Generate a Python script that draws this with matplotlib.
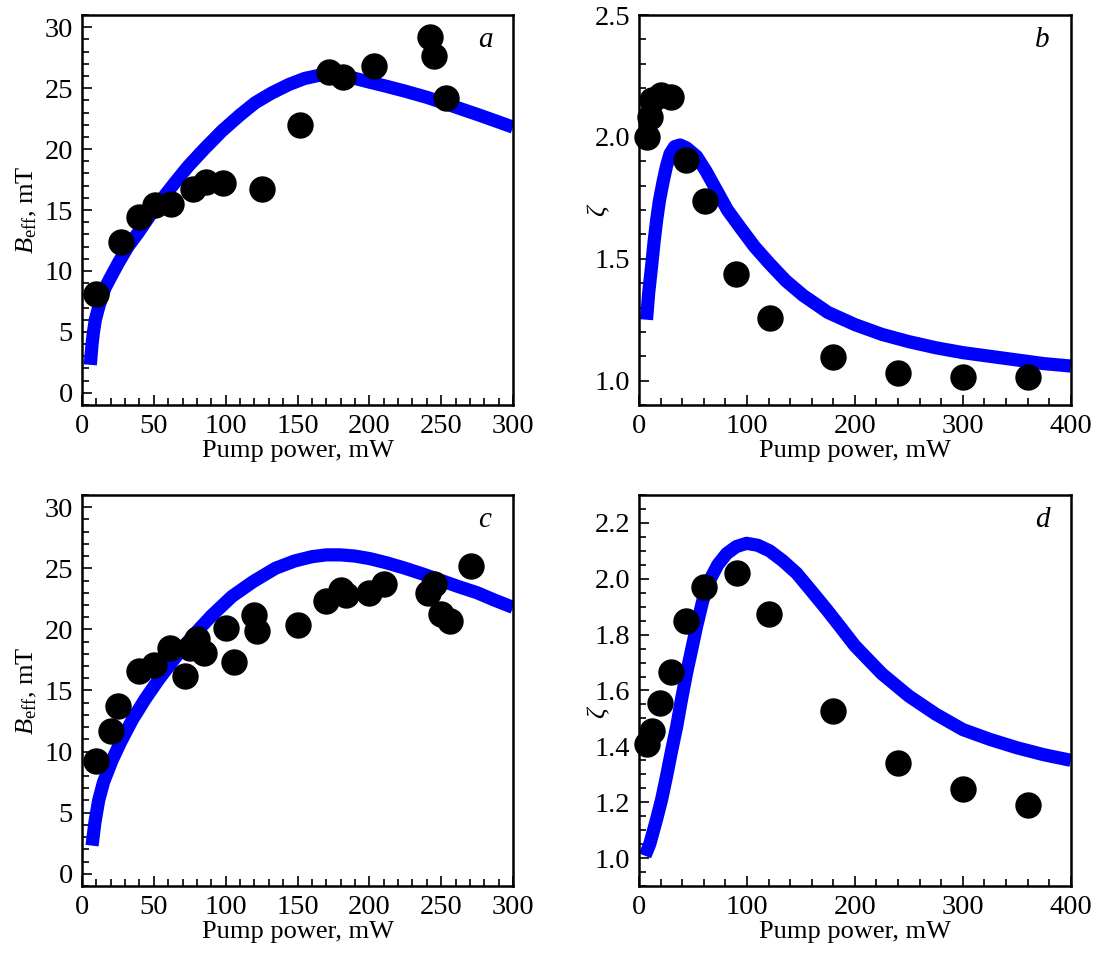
import matplotlib
matplotlib.use("Agg")
import matplotlib.pyplot as plt
from matplotlib.ticker import MultipleLocator

plt.rcParams["font.family"] = ["Liberation Serif", "DejaVu Serif"]
plt.rcParams["mathtext.fontset"] = "custom"
plt.rcParams["mathtext.rm"] = "Liberation Serif"
plt.rcParams["mathtext.it"] = "Liberation Serif:italic"
plt.rcParams["font.size"] = 19

# panel a: measured points and model curve
a_x = [10, 27, 40, 51, 62, 77, 86, 98, 125, 152, 172, 182, 203, 242, 245, 253]
a_y = [8.1, 12.4, 14.4, 15.4, 15.5, 16.7, 17.3, 17.2, 16.7, 22.0, 26.3, 25.9, 26.8, 29.2, 27.6, 24.2]
a_fit_x = [5.8, 7, 8, 9.3, 12, 16, 20, 25.5, 32, 39.5, 47, 55.7, 65, 74, 85, 97.5, 110, 120.5,
           132, 144, 155, 167, 178, 190, 200, 212, 225, 240, 254, 265, 275, 287, 300]
a_fit_y = [2.3, 4.0, 5.0, 6.0, 7.2, 8.6, 9.5, 10.7, 12.0, 13.2, 14.5, 15.9, 17.3, 18.6, 20.0, 21.5,
           22.8, 23.8, 24.6, 25.3, 25.8, 26.1, 26.1, 25.8, 25.5, 25.15, 24.75, 24.25, 23.7, 23.25,
           22.85, 22.35, 21.8]

# panel b
b_x = [7, 10, 12, 20, 30, 44, 61, 90, 121, 180, 240, 300, 360]
b_y = [2.00, 2.08, 2.15, 2.17, 2.165, 1.906, 1.736, 1.437, 1.256, 1.098, 1.033, 1.016, 1.016]
b_fit_x = [7, 9, 11.7, 14, 16.4, 19, 22.5, 25.5, 28.7, 33, 38, 44, 53.4, 62, 72, 82, 93.5, 107,
           121, 136, 152, 175, 200, 225, 250, 275, 300, 325, 350, 375, 400]
b_fit_y = [1.25, 1.36, 1.47, 1.57, 1.66, 1.74, 1.82, 1.88, 1.93, 1.96, 1.967, 1.955, 1.92, 1.86,
           1.78, 1.70, 1.63, 1.55, 1.48, 1.41, 1.35, 1.28, 1.23, 1.19, 1.16, 1.135, 1.115, 1.10,
           1.085, 1.07, 1.06]

# panel c
c_x = [9.7, 20, 25, 40, 50, 61, 72, 75, 80, 85, 100, 106, 120, 122, 150, 170, 180, 184,
       200, 210, 241, 245, 250, 256, 271]
c_y = [9.2, 11.7, 13.7, 16.6, 17.1, 18.5, 16.2, 18.5, 19.2, 18.1, 20.1, 17.3, 21.2, 19.9,
       20.4, 22.3, 23.2, 22.8, 23.0, 23.7, 23.0, 23.7, 21.3, 20.7, 25.2]
c_fit_x = [7, 9, 11.6, 15, 21, 27, 35, 44, 53.4, 65, 76.6, 90, 104.4, 119, 134.6, 148, 160, 170,
           180, 190, 200, 212, 225, 238, 250, 262, 275, 287, 300]
c_fit_y = [2.3, 4.2, 6.0, 7.5, 9.3, 10.8, 12.6, 14.3, 15.9, 17.7, 19.4, 21.1, 22.7, 23.9, 25.0,
           25.6, 25.95, 26.1, 26.1, 26.0, 25.8, 25.45, 25.0, 24.5, 24.0, 23.5, 23.0, 22.4, 21.8]

# panel d
d_x = [7, 12, 19.4, 29.3, 43.5, 60.2, 90.4, 120.7, 180, 240, 300, 360]
d_y = [1.407, 1.455, 1.556, 1.667, 1.848, 1.97, 2.02, 1.874, 1.525, 1.34, 1.246, 1.19]
d_fit_x = [5.6, 10, 16.4, 21, 25.6, 30, 34.9, 39.5, 44.1, 49, 53.4, 59, 65.7, 73, 81.2, 90, 99.7,
           110, 121, 133, 146, 160, 173.8, 187, 200, 225, 250, 275, 300, 325, 350, 375, 400]
d_fit_y = [1.008, 1.05, 1.14, 1.21, 1.294, 1.38, 1.47, 1.57, 1.663, 1.75, 1.83, 1.92, 1.996, 2.05,
           2.09, 2.115, 2.127, 2.12, 2.10, 2.065, 2.02, 1.955, 1.89, 1.825, 1.76, 1.66, 1.58, 1.515,
           1.46, 1.425, 1.395, 1.37, 1.35]

fig = plt.figure(figsize=(10.96, 9.58), dpi=100)

# rect, data, letter, limits, tick steps, ylabel, ylabel y-position
panels = [
    ([0.0748, 0.5772, 0.3933, 0.4071], a_x, a_y, a_fit_x, a_fit_y, "a",
     (0, 300), (-1, 31), 50, 10, 5, 1, "$B_{\\rm eff}$, mT", "{:.0f}", None),
    ([0.5830, 0.5772, 0.3940, 0.4071], b_x, b_y, b_fit_x, b_fit_y, "b",
     (0, 400), (0.9, 2.5), 100, 20, 0.5, 0.1, "$\\zeta$", "{:.1f}", 0.5),
    ([0.0748, 0.0752, 0.3933, 0.4081], c_x, c_y, c_fit_x, c_fit_y, "c",
     (0, 300), (-1, 31), 50, 10, 5, 1, "$B_{\\rm eff}$, mT", "{:.0f}", None),
    ([0.5830, 0.0752, 0.3940, 0.4081], d_x, d_y, d_fit_x, d_fit_y, "d",
     (0, 400), (0.9, 2.3), 100, 20, 0.2, 0.05, "$\\zeta$", "{:.1f}", 0.445),
]

for rect, px, py, fx, fy, letter, xl, yl, xmaj, xmin, ymaj, ymin, ylab, fmt, ly in panels:
    ax = fig.add_axes(rect)
    ax.plot(fx, fy, color="#0000ff", lw=9.5, solid_capstyle="butt", solid_joinstyle="round", zorder=2)
    ax.plot(px, py, "o", color="black", ms=18, zorder=3, clip_on=False)
    ax.set_xlim(*xl)
    ax.set_ylim(*yl)
    ax.xaxis.set_major_locator(MultipleLocator(xmaj))
    ax.xaxis.set_minor_locator(MultipleLocator(xmin))
    ax.yaxis.set_major_locator(MultipleLocator(ymaj))
    ax.yaxis.set_minor_locator(MultipleLocator(ymin))
    ax.yaxis.set_major_formatter(plt.FuncFormatter(lambda v, p, f=fmt: f.format(v)))
    ax.tick_params(which="both", direction="in", top=False, right=False, width=1.2, labelsize=20.5)
    ax.tick_params(which="major", length=7.5, pad=6.5)
    ax.tick_params(which="minor", length=5)
    for s in ax.spines.values():
        s.set_linewidth(1.8)
    ax.set_xlabel("Pump power, mW", labelpad=1)
    ax.set_ylabel(ylab, labelpad=4)
    if ly is not None:
        ax.yaxis.label.set_va("center")
        ax.yaxis.set_label_coords(-0.093, ly)
    ax.text(0.935, 0.935, letter, transform=ax.transAxes, style="italic",
            ha="center", va="center", fontsize=21)

fig.savefig("out.png", dpi=100)
